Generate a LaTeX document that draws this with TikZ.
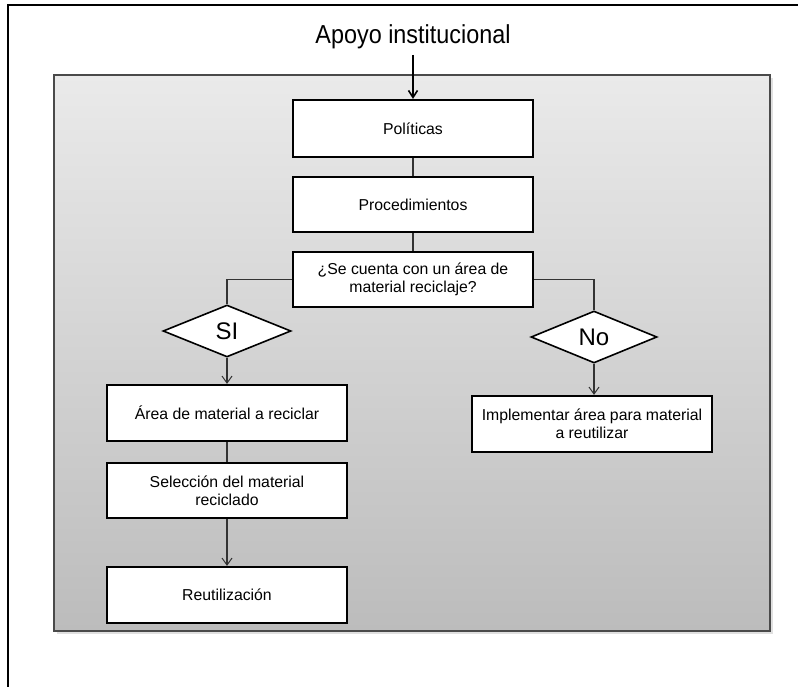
\documentclass[tikz,border=0pt]{standalone}
\usepackage{fontspec}
\setmainfont{Liberation Sans}
\usetikzlibrary{shapes.geometric,arrows.meta}
\definecolor{panelTop}{HTML}{EAEAEA}
\definecolor{panelBot}{HTML}{BCBCBC}
\definecolor{panelEdge}{HTML}{4A4A4A}
\definecolor{wire}{HTML}{333333}
\tikzset{
  stepbox/.style={draw=black, fill=white, line width=2.2pt, minimum width=240pt,
    inner sep=0pt, align=center, font=\fontsize{15.8}{18}\selectfont},
  choice/.style={draw=black, fill=white, line width=1.6pt, diamond, inner sep=0pt,
    font=\fontsize{24}{28}\selectfont},
  link/.style={draw=wire, line width=1.1pt},
  flow/.style={link, -{Straight Barb[length=7pt,width=10pt,line width=1pt]}},
}
\begin{document}
\begin{tikzpicture}[x=1pt,y=-1pt]
\useasboundingbox (0,0) rectangle (798,687);
% outer frame (open to the right and bottom)
\draw[line width=2pt, black] (798,5) -- (8,5) -- (8,687);
% shaded panel with a soft shadow
\fill[black!12] (57,78) rectangle (773,634);
\shade[top color=panelTop, bottom color=panelBot] (54,75) rectangle (770,631);
\draw[panelEdge, line width=2pt] (54,75) rectangle (770,631);
% title and entry arrow
\node (title) at (413,37) {\scalebox{0.9}[1]{\fontsize{26}{30}\selectfont Apoyo institucional}};
\coordinate (entry) at (413,55);
% process boxes
\node[stepbox, minimum height=57pt] (pol)  at (413,128.5) {Políticas};
\node[stepbox, minimum height=55pt] (proc) at (413,204.5) {Procedimientos};
\node[stepbox, minimum height=55pt] (q)    at (413,279.5) {¿Se cuenta con un área de\\material reciclaje?};
\node[choice, minimum width=128pt, minimum height=52pt] (si) at (227,331) {SI};
\node[choice, minimum width=126pt, minimum height=52pt] (no) at (594,337) {No};
\node[stepbox, minimum height=56pt] (area) at (227,413)   {Área de material a reciclar};
\node[stepbox, minimum height=55pt] (sel)  at (227,490.5) {Selección del material\\reciclado};
\node[stepbox, minimum height=56pt] (reut) at (227,595)   {Reutilización};
\node[stepbox, minimum height=56pt] (impl) at (592,424)   {Implementar área para material\\a reutilizar};
% connectors
\draw[line width=2pt, -{Straight Barb[length=7pt,width=9pt,line width=1.6pt]}] (entry) -- (pol.north);
\draw[link] (pol) -- (proc);
\draw[link] (proc) -- (q);
\draw[link] (q.west) -| (si.north);
\draw[link] (q.east) -| (no.north);
\draw[flow] (si.south) -- (area.north);
\draw[link] (area) -- (sel);
\draw[flow] (sel.south) -- (reut.north);
\draw[flow] (no.south) -- (impl.north -| no.south);
\end{tikzpicture}
\end{document}
